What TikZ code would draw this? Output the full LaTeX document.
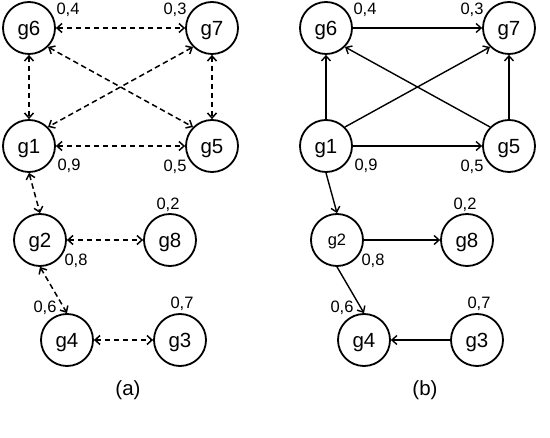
\documentclass[tikz,border=0pt]{standalone}
\usepackage{fontspec}
\setmainfont{Liberation Sans}
\usetikzlibrary{arrows.meta}
\begin{document}
\begin{tikzpicture}[x=1pt,y=-1pt,
  gnode/.style={circle,draw,line width=1.8pt,minimum size=52pt,inner sep=0pt,text depth=0pt,font=\fontsize{20.5}{20.5}\selectfont},
  val/.style={font=\fontsize{16.5}{16.5}\selectfont,inner sep=0pt},
  capt/.style={font=\fontsize{20.5}{20.5}\selectfont,inner sep=0pt},
  tip/.tip={Straight Barb[length=5pt,width=9pt]},
  dconn/.style={line width=1.5pt,dash pattern=on 5.5pt off 3.5pt,tip-tip},
  sconn/.style={line width=1.4pt,-tip}
]
\useasboundingbox (0,0) rectangle (550,438);
% panel (a)
\node[gnode] (a6) at (29,28) {g6};
\node[gnode] (a7) at (212,28) {g7};
\node[gnode] (a1) at (29,146) {g1};
\node[gnode] (a5) at (212,146) {g5};
\node[gnode] (a2) at (40,240) {g2};
\node[gnode] (a8) at (170,240) {g8};
\node[gnode] (a4) at (67,340) {g4};
\node[gnode] (a3) at (180,340) {g3};
\node[val] (la6) at (68,10) {0,4};
\node[val] (la7) at (175,10) {0,3};
\node[val] (la1) at (69,166) {0,9};
\node[val] (la5) at (175,167) {0,5};
\node[val] (la8) at (168,205) {0,2};
\node[val] (la2) at (76,261) {0,8};
\node[val] (la4) at (45,308) {0,6};
\node[val] (la3) at (182,304) {0,7};
\node[capt] (capa) at (128,390) {(a)};
\draw[dconn] (a6) -- (a7);
\draw[dconn] (a1) -- (a5);
\draw[dconn] (a6) -- (a1);
\draw[dconn] (a7) -- (a5);
\draw[dconn] (a6.south east) -- (a5.north west);
\draw[dconn] (a7.south west) -- (a1.north east);
\draw[dconn] (a1.south) -- (a2.north);
\draw[dconn] (a2) -- (a8);
\draw[dconn] (a2.south) -- (a4.north);
\draw[dconn] (a4) -- (a3);
% panel (b)
\node[gnode] (b6) at (326,28) {g6};
\node[gnode] (b7) at (509,28) {g7};
\node[gnode] (b1) at (326,146) {g1};
\node[gnode] (b5) at (509,146) {g5};
\node[gnode,font=\fontsize{16.5}{16.5}\selectfont] (b2) at (337,240) {g2};
\node[gnode] (b8) at (467,240) {g8};
\node[gnode] (b4) at (364,340) {g4};
\node[gnode] (b3) at (477,340) {g3};
\node[val] (lb6) at (365,10) {0,4};
\node[val] (lb7) at (472,10) {0,3};
\node[val] (lb1) at (366,166) {0,9};
\node[val] (lb5) at (472,167) {0,5};
\node[val] (lb8) at (465,205) {0,2};
\node[val] (lb2) at (373,261) {0,8};
\node[val] (lb4) at (342,308) {0,6};
\node[val] (lb3) at (479,304) {0,7};
\node[capt] (capb) at (425,390) {(b)};
\draw[sconn] (b6) -- (b7);
\draw[sconn] (b1) -- (b5);
\draw[sconn] (b1) -- (b6);
\draw[sconn] (b5) -- (b7);
\draw[sconn] (b5.north west) -- (b6.south east);
\draw[sconn] (b1.north east) -- (b7.south west);
\draw[sconn] (b1.south) -- (b2.north);
\draw[sconn] (b2) -- (b8);
\draw[sconn] (b2.south) -- (b4.north);
\draw[sconn] (b3) -- (b4);
\end{tikzpicture}
\end{document}
